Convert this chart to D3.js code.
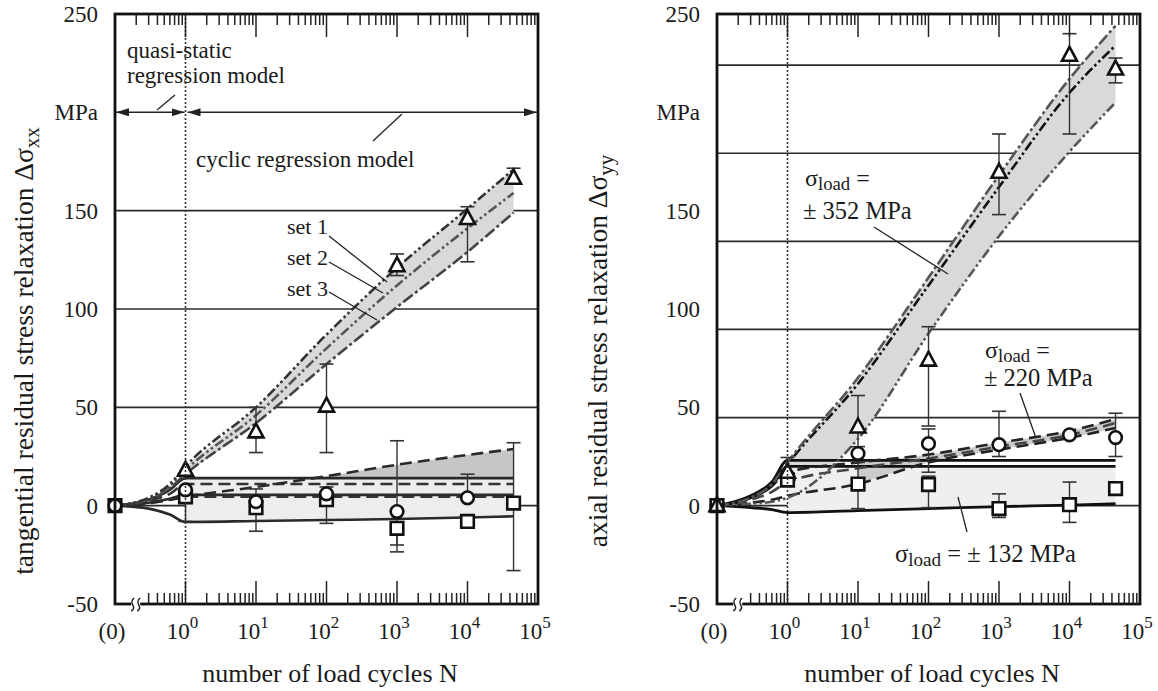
<!DOCTYPE html>
<html><head><meta charset="utf-8">
<script src="https://cdn.jsdelivr.net/npm/d3@7"></script>
<style>
body{margin:0;background:#fff}
svg{display:block}
text{font-family:"Liberation Serif","Times New Roman",serif;fill:#1a1a1a}
</style>
</head><body>
<svg id="c" width="1158" height="691"></svg>
<script>
// ---------------- DATA ----------------
// x tick labels
const xTickN    = [0, 1, 10, 100, 1000, 10000, 100000];
const xTickBase = ["(0)", "10", "10", "10", "10", "10", "10"];
const xTickExp  = ["", "0", "1", "2", "3", "4", "5"];
// y tick labels (200 is replaced by the unit "MPa")
const yTickVals = [-50, 0, 50, 100, 150, 250];
const yUnitVal  = 200;
// grid lines
const leftGrid  = [0, 50, 100, 150];
const rightGrid = [0, 44.8, 89.6, 134.4, 179.2, 224];

// N positions for curves ((0) is drawn at the left edge)
const N9 = [0, 0.3, 0.6, 1, 10, 100, 1000, 10000, 45000];
const N5 = [0, 0.3, 0.6, 1, 45000];
// N positions for measured points
const NP = [0, 1, 10, 100, 1000, 10000, 45000];

// ---- left panel: tangential ----
const lSet1      = [0, 4, 11, 20, 50, 87, 121, 151, 171];
const lSet2      = [0, 3.5, 10, 18, 46, 80, 112, 141, 159];
const lSet3      = [0, 3, 9, 16, 42, 72, 101, 129, 149];
const lSolidTop  = [0, 3, 8, 14, 14];
const lDashTop   = [0, 2.5, 6, 11, 11];
const lSolidMid  = [0, 1.5, 3.5, 5.5, 5.5];
const lDashLow   = [0, 1.2, 3, 4.5, 4.5];
const lDashRise  = [0, 1.5, 3, 4.5, 9.5, 15, 20.8, 25.8, 28.8];
const lSolidLow  = [0, -1.5, -4.5, -8.3, -7.8, -7.3, -6.8, -6, -5.4];

const lTri   = [null, 18, 37.5, 50.6, 122, 146, 166.5];
const lTriLo = [null, null, 27, 27, 117, 124, null];
const lTriHi = [null, null, 50, 72, 128, 152, 171.6];
const lCir   = [0, 8, 2, 6, -3, 4, null];
const lCirLo = [null, null, null, null, -20, null, null];
const lCirHi = [null, null, null, 9.5, 33, 16, null];
const lSq    = [0, 4.5, -1, 3, -11.5, -8, 1.3];
const lSqLo  = [null, -8, -13, -9, -23.5, null, -33];
const lSqHi  = [null, null, 8.5, null, null, null, 32];

// ---- right panel: axial ----
const r352Up   = [0, 4, 11, 22, 65, 116, 168, 217, 244];
const r352Mid  = [0, 4, 10.5, 21, 62, 112, 162, 210, 234];
const r352Low  = [0, 1, 2, 4, 34, 87.5, 137, 180, 205];
const r220A    = [0, 4, 10, 17, 22, 26, 32, 38, 44];
const r220B    = [0, 3, 7, 12, 19, 24, 30, 36, 42];
const r220C    = [0, 1.5, 3, 5, 11, 22, 28.5, 34.5, 39.5];
const r132A    = [0, 5, 12, 23, 23];
const r132B    = [0, 4, 10, 20, 20];
const r132Low  = [0, -1, -2, -3.5, -2.5, -1.5, -0.5, 0.3, 1];

const rTri   = [0, 17, 40, 74, 169.5, 229, 222];
const rTriLo = [null, null, 30, 40.5, 148, 189, 215];
const rTriHi = [null, 24.5, 56, 91, 189, 240, 227.6];
const rCir   = [0, 15, 26.5, 31.5, 31, 36, 34.6];
const rCirLo = [null, null, null, 17, 25, null, 25];
const rCirHi = [null, null, null, 39, 48, null, 47];
const rSq    = [0, 13, 11, 10.7, -1.5, 0.5, 8.7];
const rSqLo  = [null, null, -1.5, -1, -6, -8.5, null];
const rSqHi  = [null, null, 22, 15, 6, 12, null];

// ---------------- DRAWING ----------------
const svg = d3.select("#c");
const defs = svg.append("defs");
defs.append("marker").attr("id", "arr")
  .attr("viewBox", "0 0 10 10").attr("refX", 10).attr("refY", 5)
  .attr("markerWidth", 13).attr("markerHeight", 8).attr("preserveAspectRatio", "none")
  .attr("markerUnits", "userSpaceOnUse").attr("orient", "auto-start-reverse")
  .append("path").attr("d", "M0,0L10,5L0,10z").attr("fill", "#222");

const W = 423, TOP = 14, BOT = 604;
const DASHDOTDOT = "10,3,2.5,3,2.5,3";
const DASHDOT = "12,3,3,3";
const DASH = "12,6";

function panel(x0) {
  const xs = d3.scaleLog().domain([0.1, 1e5]).range([x0, x0 + W]);
  const ys = d3.scaleLinear().domain([-50, 250]).range([BOT, TOP]);
  const xp = n => xs(n === 0 ? 0.1 : n);
  const g = svg.append("g");
  const pts = (Ns, vs) => Ns.map((n, i) => [n, vs[i]]);
  const lineGen = d3.line().x(d => xp(d[0])).y(d => ys(d[1])).curve(d3.curveMonotoneX);
  const P = {xs, ys, xp, g, x0};
  P.grid = vals => g.append("g").selectAll("line").data(vals).join("line")
    .attr("x1", x0).attr("x2", x0 + W).attr("y1", d => ys(d)).attr("y2", d => ys(d))
    .attr("stroke", "#2a2a2a").attr("stroke-width", 1.7);
  P.band = (Ns, lo, hi, from, fill, clip) => {
    const d = Ns.map((n, i) => ({n, a: lo[i], b: hi[i]})).slice(from);
    const a = d3.area().x(e => xp(e.n)).y0(e => ys(e.a)).y1(e => ys(e.b)).curve(d3.curveMonotoneX);
    const p = g.append("path").attr("d", a(d)).attr("fill", fill).attr("stroke", "none");
    if (clip) p.attr("clip-path", `url(#${clip})`);
  };
  P.line = (Ns, vs, color, dash, w) => g.append("path").attr("d", lineGen(pts(Ns, vs)))
    .attr("fill", "none").attr("stroke", color).attr("stroke-width", w || 2.6)
    .attr("stroke-dasharray", dash || null).attr("stroke-linecap", "butt");
  P.errors = (Ns, lo, hi, vs) => {
    Ns.forEach((n, i) => {
      const x = xp(n);
      if (lo[i] == null && hi[i] == null) return;
      const a = lo[i] != null ? lo[i] : vs[i];
      const b = hi[i] != null ? hi[i] : vs[i];
      g.append("line").attr("x1", x).attr("x2", x).attr("y1", ys(a)).attr("y2", ys(b))
        .attr("stroke", "#333").attr("stroke-width", 1.4);
      [lo[i], hi[i]].forEach(c => {
        if (c == null) return;
        g.append("line").attr("x1", x - 7).attr("x2", x + 7).attr("y1", ys(c)).attr("y2", ys(c))
          .attr("stroke", "#333").attr("stroke-width", 1.6);
      });
    });
  };
  P.markers = (Ns, vs, shape) => {
    const d = Ns.map((n, i) => [n, vs[i]]).filter(e => e[1] != null);
    const sel = g.append("g").selectAll("path").data(d).join("path")
      .attr("transform", e => `translate(${xp(e[0])},${ys(e[1])})`)
      .attr("fill", "#fff").attr("stroke", "#111").attr("stroke-width", 2.6)
      .attr("stroke-linejoin", "miter");
    if (shape === "circle") sel.attr("d", "M-6.3,0A6.3,6.3 0 1 0 6.3,0A6.3,6.3 0 1 0 -6.3,0Z");
    if (shape === "square") sel.attr("d", "M-6.3,-6.3H6.3V6.3H-6.3Z");
    if (shape === "triangle") sel.attr("d", "M0,-8.5L7.5,5.5H-7.5Z");
  };
  P.frameAndAxes = () => {
    // dotted line at N = 1
    g.append("line").attr("x1", xs(1)).attr("x2", xs(1)).attr("y1", TOP).attr("y2", BOT)
      .attr("stroke", "#333").attr("stroke-width", 1.6).attr("stroke-dasharray", "2,2");
    g.append("rect").attr("x", x0).attr("y", TOP).attr("width", W).attr("height", BOT - TOP)
      .attr("fill", "none").attr("stroke", "#111").attr("stroke-width", 2.8);
    const ticks = xs.ticks().filter(t => t > 0.1 * 1.001 && t < 1e5 * 0.999);
    const isMajor = t => Math.abs(Math.log10(t) - Math.round(Math.log10(t))) < 1e-6;
    const tg = g.append("g").attr("stroke", "#222").attr("stroke-width", 1.5);
    ticks.forEach(t => {
      const len = isMajor(t) ? 23 : 11;
      tg.append("line").attr("x1", xs(t)).attr("x2", xs(t)).attr("y1", TOP).attr("y2", TOP + len);
      if (Math.abs(t - 0.2) > 1e-9)
        tg.append("line").attr("x1", xs(t)).attr("x2", xs(t)).attr("y1", BOT).attr("y2", BOT - len);
    });
    // axis break symbol at N = 0.2
    const bx = xs(0.2);
    g.append("rect").attr("x", bx - 5).attr("y", BOT - 6).attr("width", 9).attr("height", 12).attr("fill", "#fff");
    [-3, 3].forEach(o => g.append("path")
      .attr("d", `M${bx + o - 2},${BOT + 7} C${bx + o + 5},${BOT + 3} ${bx + o - 6},${BOT - 1} ${bx + o + 1},${BOT - 6}`)
      .attr("fill", "none").attr("stroke", "#222").attr("stroke-width", 1.5));
    // x tick labels
    xTickN.forEach((n, i) => {
      const t = g.append("text").attr("x", xp(n) - 3).attr("y", 639)
        .attr("text-anchor", "middle").attr("font-size", 23).text(xTickBase[i]);
      if (xTickExp[i]) t.append("tspan").attr("dy", -11).attr("font-size", 17).text(xTickExp[i]);
    });
    // y tick labels
    const yl = x0 - 17;
    yTickVals.forEach(v => g.append("text").attr("x", yl).attr("y", ys(v) + 8)
      .attr("text-anchor", "end").attr("font-size", 23).text(v));
    g.append("text").attr("x", yl).attr("y", ys(yUnitVal) + 8).attr("text-anchor", "end")
      .attr("font-size", 23).text("MPa");
    // x title
    g.append("text").attr("x", x0 + 215).attr("y", 682).attr("text-anchor", "middle")
      .attr("font-size", 26).text("number of load cycles N");
  };
  P.leader = (x1, y1, x2, y2) => g.append("line").attr("x1", x1).attr("y1", y1).attr("x2", x2).attr("y2", y2)
    .attr("stroke", "#222").attr("stroke-width", 1.3);
  P.text = (x, y, s, size, anchor) => g.append("text").attr("x", x).attr("y", y)
    .attr("font-size", size).attr("text-anchor", anchor || "start").text(s);
  P.sigma = (x, y, rest, size) => {
    const t = g.append("text").attr("x", x).attr("y", y).attr("font-size", size);
    t.append("tspan").text("σ");
    t.append("tspan").attr("dy", 4).attr("font-size", size * 0.78).text("load");
    t.append("tspan").attr("dy", -4).text(" " + rest);
    return t;
  };
  return P;
}

// clip for the darker wedge above the flat line
defs.append("clipPath").attr("id", "clipL").append("rect")
  .attr("x", 0).attr("y", 0).attr("width", 600)
  .attr("height", d3.scaleLinear().domain([-50, 250]).range([BOT, TOP])(14));

// ===== LEFT PANEL =====
const L = panel(115);
L.grid(leftGrid);
L.band(N9, lSet3, lSet1, 3, "#d9d9d9");
L.band(N9, lSolidLow, N9.map(() => lSolidTop[3]), 3, "#ededed");
L.band(N9, N9.map(() => lSolidTop[3]), lDashRise, 3, "#c6c6c6", "clipL");
L.line(N5, lSolidTop, "#2a2a2a", null, 2.6);
L.line(N5, lDashTop, "#333", DASH, 2.6);
L.line(N5, lSolidMid, "#2a2a2a", null, 2.6);
L.line(N5, lDashLow, "#333", DASH, 2.6);
L.line(N9, lDashRise, "#2a2a2a", DASH, 2.6);
L.line(N9, lSolidLow, "#2a2a2a", null, 2.6);
L.line(N9, lSet3, "#444", DASHDOT, 2.6);
L.line(N9, lSet2, "#555", DASHDOTDOT, 2.6);
L.line(N9, lSet1, "#333", DASHDOTDOT, 2.6);
L.errors(NP, lSqLo, lSqHi, lSq);
L.errors(NP, lCirLo, lCirHi, lCir);
L.errors(NP, lTriLo, lTriHi, lTri);
L.markers(NP, lSq, "square");
L.markers(NP, lCir, "circle");
L.markers(NP, lTri, "triangle");
L.frameAndAxes();
// annotations
L.text(127, 58, "quasi-static", 23);
L.text(127, 83, "regression model", 23);
L.leader(157, 110, 175, 95);
{
  const y = L.ys(yUnitVal);
  L.g.append("line").attr("x1", L.xs(0.1) + 1).attr("x2", L.xs(1) - 1).attr("y1", y).attr("y2", y)
    .attr("stroke", "#222").attr("stroke-width", 1.5).attr("marker-start", "url(#arr)").attr("marker-end", "url(#arr)");
  L.g.append("line").attr("x1", L.xs(1) + 2).attr("x2", L.xs(1e5) - 1).attr("y1", y).attr("y2", y)
    .attr("stroke", "#222").attr("stroke-width", 1.5).attr("marker-start", "url(#arr)").attr("marker-end", "url(#arr)");
}
L.text(196, 167, "cyclic regression model", 23);
L.leader(373, 141, 402, 114);
L.text(328, 234, "set 1", 22, "end");
L.text(328, 265, "set 2", 22, "end");
L.text(328, 296, "set 3", 22, "end");
L.leader(329, 236, 387, 282);
L.leader(329, 262, 383, 293);
L.leader(329, 292, 377, 320);
// y title
{
  const t = L.g.append("text").attr("transform", "translate(33,351) rotate(-90)")
    .attr("text-anchor", "middle").attr("font-size", 27.5).text("tangential residual stress relaxation Δσ");
  t.append("tspan").attr("dy", 6).attr("font-size", 21).text("xx");
}

// ===== RIGHT PANEL =====
const R = panel(717);
R.grid(rightGrid);
R.band(N9, r352Low, r352Up, 3, "#d9d9d9");
R.band(N9, r132Low, N9.map(() => r132B[3]), 3, "#efefef");
R.band(N9, r220C, r220A, 4, "#cccccc");
R.line(N5, r132A, "#111", null, 2.8);
R.line(N5, r132B, "#111", null, 2.8);
R.line(N9, r132Low, "#111", null, 2.8);
R.line(N9, r220C, "#222", DASH, 2.6);
R.line(N9, r220B, "#444", DASH, 2.6);
R.line(N9, r220A, "#222", DASH, 2.6);
R.line(N9, r352Low, "#555", DASHDOTDOT, 2.6);
R.line(N9, r352Mid, "#111", DASHDOTDOT, 2.6);
R.line(N9, r352Up, "#555", DASHDOT, 2.6);
R.errors(NP, rSqLo, rSqHi, rSq);
R.errors(NP, rCirLo, rCirHi, rCir);
R.errors(NP, rTriLo, rTriHi, rTri);
R.markers(NP, rCir, "circle");
R.markers(NP, rSq, "square");
R.markers(NP, rTri, "triangle");
R.frameAndAxes();
R.sigma(805, 186, "=", 24);
R.text(803, 219, "± 352 MPa", 24.5);
R.leader(874, 227, 948, 274);
R.sigma(985, 358, "=", 24);
R.text(984, 386, "± 220 MPa", 24.5);
R.leader(1020, 393, 1036, 438);
R.sigma(895, 562, "= ± 132 MPa", 24.5);
R.leader(958, 497, 967, 532);
{
  const t = R.g.append("text").attr("transform", "translate(607,351) rotate(-90)")
    .attr("text-anchor", "middle").attr("font-size", 27.5).text("axial residual stress relaxation Δσ");
  t.append("tspan").attr("dy", 6).attr("font-size", 21).text("yy");
}
</script>
</body></html>
